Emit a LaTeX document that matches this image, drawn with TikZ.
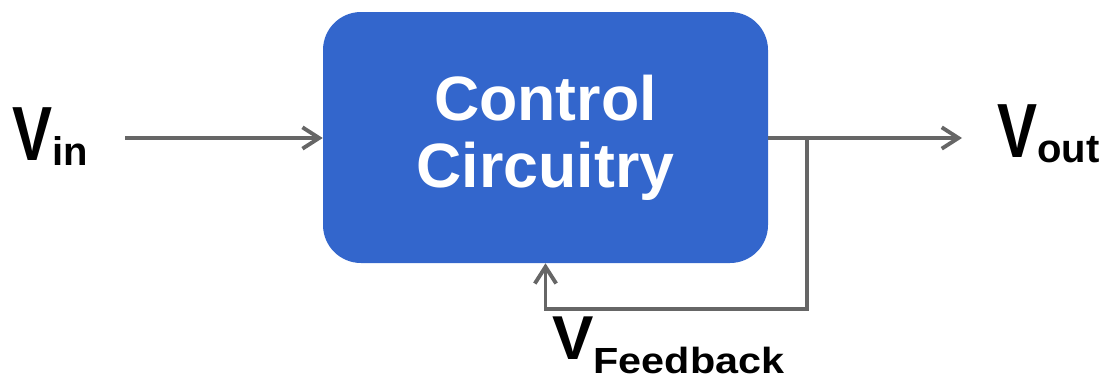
\documentclass[tikz,border=0pt]{standalone}
\usepackage{fontspec}
\setmainfont{Liberation Sans}
\usepackage{graphicx}
\usepackage{xcolor}
\usetikzlibrary{arrows.meta,positioning}
\definecolor{bloque}{HTML}{3366CC}
\definecolor{linea}{HTML}{666666}

\begin{document}
\begin{tikzpicture}[x=0.75pt,y=-0.75pt,
        >={Straight Barb[length=12.5pt,width=16pt]},
        senal/.style={draw=linea,line width=2.9pt,->},
        etiqueta/.style={inner sep=0pt,anchor=base west,font=\bfseries}]
        \useasboundingbox (0,0) rectangle (1103,379);

        % Bloque de control
        \node[fill=bloque,rounded corners=28.5pt,minimum width=333.75pt,minimum height=188.25pt,
              text=white,align=center,font=\bfseries\fontsize{47}{50}\selectfont]
              (ctrl) at (545.5,137.5) {Control\\Circuitry};

        % Etiquetas de las tensiones
        \node[etiqueta] (vin) at (12,160)
            {\scalebox{1}[1.28]{\fontsize{45}{45}\selectfont V}\raisebox{-3.75pt}{\fontsize{30}{30}\selectfont in}};
        \node[etiqueta] (vout) at (997,157)
            {\scalebox{1}[1.28]{\fontsize{45}{45}\selectfont V}\raisebox{-3.75pt}{\fontsize{30}{30}\selectfont out}};
        \node[etiqueta] (vfb) at (552,359)
            {{\fontsize{46.5}{46.5}\selectfont V}\raisebox{-10.8pt}{\scalebox{1}[0.88]{\fontsize{31}{31}\selectfont Feedback}}};

        % Conexiones
        \coordinate (entrada) at (125,138);
        \coordinate (salida) at (962,138);
        \coordinate (toma) at (807,138);
        \draw[senal] (entrada) -- (ctrl.west |- entrada);
        \draw[senal] (ctrl.east |- salida) -- (salida);
        \draw[senal] (toma) -- ++(0,171) -| (ctrl.south);
    \end{tikzpicture}
\end{document}
